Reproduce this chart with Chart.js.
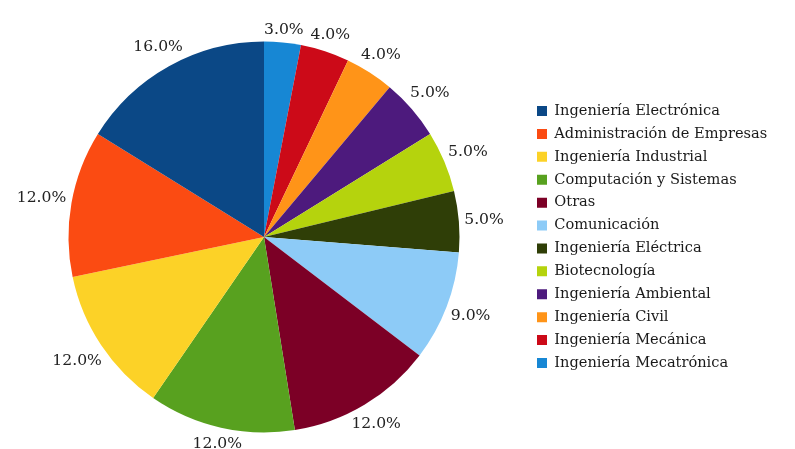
<!DOCTYPE html>
<html><head><meta charset="utf-8">
<script src="https://cdn.jsdelivr.net/npm/chart.js@4/dist/chart.umd.min.js"></script>
<style>html,body{margin:0;padding:0;background:#fff;}#wrap{width:795px;height:449px;}</style>
</head><body><div id="wrap"><canvas id="c" width="795" height="449"></canvas></div>
<script>
// Slices in clockwise order starting at 12 o'clock
const categories = [
  'Ingeniería Mecatrónica',
  'Ingeniería Mecánica',
  'Ingeniería Civil',
  'Ingeniería Ambiental',
  'Biotecnología',
  'Ingeniería Eléctrica',
  'Comunicación',
  'Otras',
  'Computación y Sistemas',
  'Ingeniería Industrial',
  'Administración de Empresas',
  'Ingeniería Electrónica'
];
const values = [3, 4, 4, 5, 5, 5, 9, 12, 12, 12, 12, 16];
const sliceColors = [
  '#1787d4', '#cc0a18', '#ff9418', '#4d1a7d', '#b5d30d', '#2f3e07',
  '#8dcbf7', '#7c0026', '#58a11f', '#fcd227', '#fb4b12', '#0b4886'
];

const FONT = "'DejaVu Serif', 'Liberation Serif', serif";

const layoutPlugin = {
  id: 'fixLayout',
  afterLayout(chart) {
    const cx = 264, cy = 237, r = 195.5;
    const a = chart.chartArea;
    a.left = cx - r; a.right = cx + r; a.top = cy - r; a.bottom = cy + r;
    a.width = 2 * r; a.height = 2 * r;
    const lg = chart.legend;
    const w = lg.width;
    lg.left = 528.7; lg.right = 528.7 + w;
  }
};

const labelPlugin = {
  id: 'outsideLabels',
  afterDatasetsDraw(chart) {
    const ctx = chart.ctx;
    const meta = chart.getDatasetMeta(0);
    ctx.save();
    ctx.font = "15.6px " + FONT;
    ctx.fillStyle = '#222';
    ctx.textAlign = 'center';
    ctx.textBaseline = 'middle';
    meta.data.forEach((arc, i) => {
      const p = arc.getProps(['x', 'y', 'startAngle', 'endAngle', 'outerRadius'], true);
      const mid = (p.startAngle + p.endAngle) / 2;
      const dx = Math.cos(mid), dy = Math.sin(mid);
      const txt = values[i].toFixed(1) + '%';
      const w = ctx.measureText(txt).width;
      const h = 12;
      const d = p.outerRadius + 5 + Math.abs(dx) * w / 2 + Math.abs(dy) * h / 2;
      ctx.fillText(txt, p.x + dx * d, p.y + dy * d);
    });
    ctx.restore();
  }
};

new Chart(document.getElementById('c'), {
  type: 'pie',
  data: {
    labels: categories,
    datasets: [{
      data: values,
      backgroundColor: sliceColors,
      borderWidth: 0
    }]
  },
  options: {
    responsive: false,
    animation: false,
    devicePixelRatio: 1,
    layout: { padding: { top: 41, bottom: 16, left: 10, right: 10 } },
    plugins: {
      tooltip: { enabled: false },
      legend: {
        position: 'right',
        reverse: true,
        labels: {
          boxWidth: 10,
          boxHeight: 10,
          padding: 8.3,
          color: '#1a1a1a',
          font: { family: FONT, size: 14.6 }
        }
      }
    }
  },
  plugins: [layoutPlugin, labelPlugin]
});
</script>
</body></html>
